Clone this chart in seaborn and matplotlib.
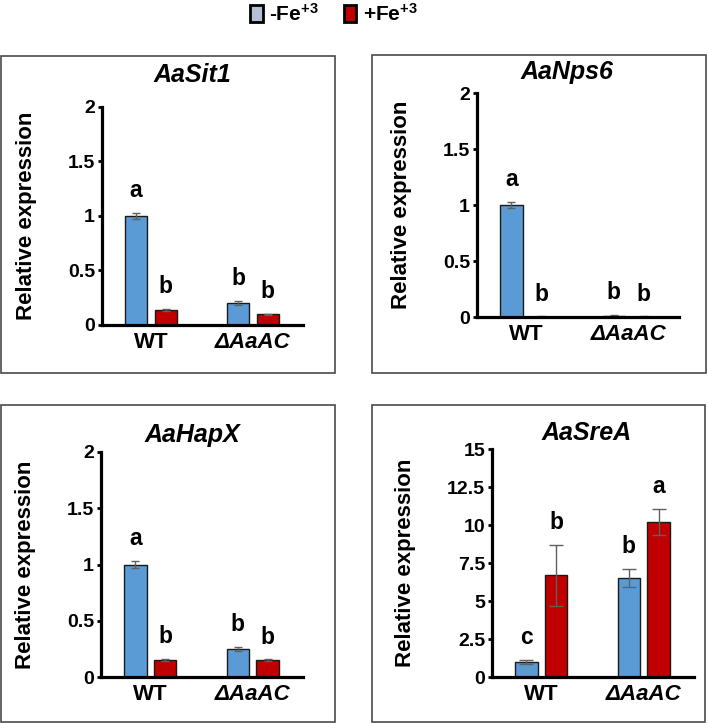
import matplotlib
matplotlib.use("Agg")
import matplotlib.pyplot as plt
import pandas as pd
import seaborn as sns
from matplotlib.patches import Patch, Rectangle
from matplotlib.ticker import FuncFormatter

# data (order: WT -Fe, WT +Fe, dAaAC -Fe, dAaAC +Fe)
genotypes = ["WT", "\u0394AaAC"]
treatments = ["-Fe", "+Fe"]
genes = ["AaSit1", "AaNps6", "AaHapX", "AaSreA"]

sit1_mean = [1.00, 0.14, 0.20, 0.10]
sit1_err = [0.03, 0.01, 0.02, 0.005]
sit1_letters = ["a", "b", "b", "b"]

nps6_mean = [1.00, 0.003, 0.012, 0.003]
nps6_err = [0.03, 0.003, 0.008, 0.003]
nps6_letters = ["a", "b", "b", "b"]

hapx_mean = [1.00, 0.15, 0.25, 0.15]
hapx_err = [0.03, 0.01, 0.02, 0.008]
hapx_letters = ["a", "b", "b", "b"]

srea_mean = [1.00, 6.7, 6.5, 10.2]
srea_err = [0.15, 2.0, 0.6, 0.85]
srea_letters = ["c", "b", "b", "a"]

y_limits = [2, 2, 2, 15]
y_ticks = [[0, 0.5, 1, 1.5, 2]] * 3 + [[0, 2.5, 5, 7.5, 10, 12.5, 15]]

means = [sit1_mean, nps6_mean, hapx_mean, srea_mean]
errs = [sit1_err, nps6_err, hapx_err, srea_err]
letters = [sit1_letters, nps6_letters, hapx_letters, srea_letters]

W, H = 708, 724
# layout in pixels: axes (left, top, width, height), title centre, panel box
axes_px = [(102, 107, 201, 218), (477, 93, 202, 224), (101, 452, 202, 225), (492, 449, 202, 228)]
title_px = [(192, 75), (567, 72), (192, 435), (587, 433)]
box_px = [(1, 56, 335, 373), (372, 55, 706, 373), (1, 405, 335, 722), (372, 405, 705, 722)]
capsizes = [3, 3, 3, 5]

blue = "#5b9bd5"
red = "#c00000"

sns.set_theme(style="white")
plt.rcParams["font.family"] = ["Liberation Sans", "DejaVu Sans"]
plt.rcParams["font.weight"] = "bold"
plt.rcParams["text.color"] = "black"
plt.rcParams["axes.labelcolor"] = "black"
plt.rcParams["mathtext.fontset"] = "custom"
plt.rcParams["mathtext.rm"] = "Liberation Sans:bold"
plt.rcParams["mathtext.default"] = "rm"

fig = plt.figure(figsize=(W / 100, H / 100), dpi=100)

for i, gene in enumerate(genes):
    l, t, w, h = axes_px[i]
    ax = fig.add_axes([l / W, 1 - (t + h) / H, w / W, h / H])
    df = pd.DataFrame({
        "genotype": [g for g in genotypes for _ in treatments],
        "treatment": treatments * len(genotypes),
        "value": means[i],
    })
    sns.barplot(data=df, x="genotype", y="value", hue="treatment",
                order=genotypes, hue_order=treatments,
                palette=[blue, red], saturation=1, width=0.58, gap=0.24,
                edgecolor="#1a1a1a", linewidth=1.0, errorbar=None,
                legend=False, ax=ax)

    # error bars and letters
    bar_conts = list(ax.containers)
    for gi in range(len(genotypes)):
        for ti, cont in enumerate(bar_conts):
            bar = cont[gi]
            xc = bar.get_x() + bar.get_width() / 2
            idx = gi * len(treatments) + ti
            m, e = means[i][idx], errs[i][idx]
            ax.errorbar(xc, m, yerr=e, fmt="none", ecolor="#606060",
                        elinewidth=1.0, capsize=capsizes[i], capthick=1.0)
            ax.annotate(letters[i][idx], (xc, m + e), xytext=(0, 16),
                        textcoords="offset points", ha="center", va="center",
                        fontsize=16.5, fontweight="bold", color="black")

    ax.set_xlim(-0.48, 1.49)
    ax.set_ylim(0, y_limits[i])
    ax.set_yticks(y_ticks[i])
    ax.yaxis.set_major_formatter(FuncFormatter(lambda v, p: f"{v:g}"))
    sns.despine(ax=ax)
    for side in ["left", "bottom"]:
        ax.spines[side].set_linewidth(2.3)
        ax.spines[side].set_color("black")
    ax.tick_params(axis="y", left=True, length=3, width=2, pad=2,
                   labelsize=14, colors="black")
    ax.tick_params(axis="x", bottom=False, length=0, pad=5, labelsize=16,
                   colors="black")
    for lab in ax.get_yticklabels():
        lab.set_fontweight("bold")
    xl = ax.get_xticklabels()
    for lab in xl:
        lab.set_fontweight("bold")
    xl[1].set_fontstyle("italic")
    ax.set_xlabel("")
    ax.set_ylabel("Relative expression", fontsize=16, fontweight="bold",
                  labelpad=22, color="black")

    tx, ty = title_px[i]
    fig.text(tx / W, 1 - ty / H, gene, ha="center", va="center",
             fontsize=18, fontweight="bold", fontstyle="italic", color="black")

    x0, y0, x1, y1 = box_px[i]
    fig.add_artist(Rectangle((x0 / W, 1 - y1 / H), (x1 - x0) / W, (y1 - y0) / H,
                             transform=fig.transFigure, fill=False,
                             edgecolor="#4a4a4a", linewidth=1.2))

handles = [
    Patch(facecolor="#b4bfd6", edgecolor="black", linewidth=2, label="-Fe$^{+3}$"),
    Patch(facecolor=red, edgecolor="black", linewidth=2, label="+Fe$^{+3}$"),
]
fig.legend(handles=handles, loc="center", bbox_to_anchor=(334 / W, 1 - 14 / H),
           ncol=2, frameon=False, handlelength=0.6, handleheight=0.85,
           handletextpad=0.3, columnspacing=1.2,
           prop=dict(weight="bold", size=15), labelcolor="black")

fig.savefig("out.png", dpi=100, facecolor="white")
